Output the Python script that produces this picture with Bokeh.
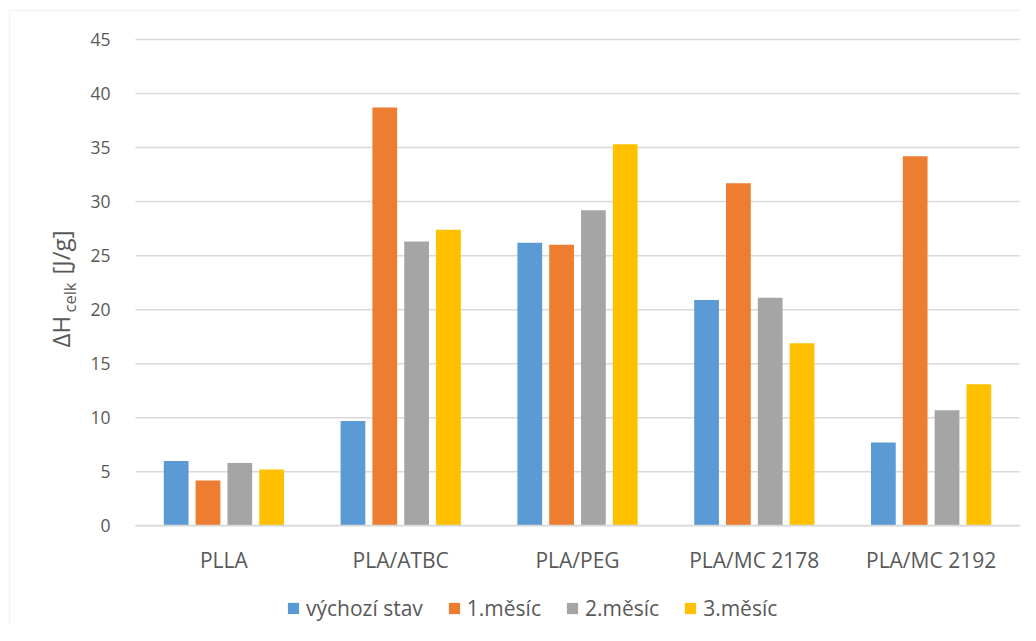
import math
from bokeh.plotting import figure
from bokeh.models import (ColumnDataSource, Range1d, Legend, LegendItem, Label,
                          BoxAnnotation, LinearAxis, FixedTicker)
from bokeh.transform import dodge
from bokeh.embed import file_html
from bokeh.resources import INLINE

categories = ["PLLA", "PLA/ATBC", "PLA/PEG", "PLA/MC 2178", "PLA/MC 2192"]
series_names = ["výchozí stav", "1.měsíc", "2.měsíc", "3.měsíc"]
vychozi_stav = [6.0, 9.7, 26.2, 20.9, 7.7]
mesic_1 = [4.2, 38.7, 26.0, 31.7, 34.2]
mesic_2 = [5.8, 26.3, 29.2, 21.1, 10.7]
mesic_3 = [5.2, 27.4, 35.3, 16.9, 13.1]
y_ticks = [0, 5, 10, 15, 20, 25, 30, 35, 40, 45]

colors = ["#5B9BD5", "#ED7D31", "#A5A5A5", "#FFC000"]
FONT = "Open Sans"
TXT = "#595959"
GRID = "#D9D9D9"

# canvas and plot-area geometry (pixels)
W, H = 1020, 625
AREA_L, AREA_R, AREA_T, AREA_B = 135, 1019, 39, 525.3
n = len(categories)
y_min, y_max = y_ticks[0], y_ticks[-1]
sx = (AREA_R - AREA_L) / n
sy = (AREA_B - AREA_T) / (y_max - y_min)
x_range = Range1d(-0.5 - AREA_L / sx, n - 0.5 + (W - AREA_R) / sx)
y_range = Range1d(y_min - (H - AREA_B) / sy, y_max + AREA_T / sy)

source = ColumnDataSource(dict(idx=list(range(n)), cat=categories,
                               s0=vychozi_stav, s1=mesic_1, s2=mesic_2, s3=mesic_3))

p = figure(x_range=x_range, y_range=y_range, width=W, height=H,
           output_backend="svg", toolbar_location=None,
           x_axis_location=None, y_axis_location=None,
           min_border=0, min_border_left=0, min_border_right=0,
           min_border_top=0, min_border_bottom=0)
p.outline_line_color = None
p.background_fill_color = "white"
p.border_fill_color = "white"
p.grid.visible = False

# horizontal gridlines across the plot area only
p.segment(x0=[-0.5] * len(y_ticks), x1=[n - 0.5] * len(y_ticks), y0=y_ticks, y1=y_ticks,
          line_color=GRID, line_width=1.5, level="underlay")

offsets = [-0.27, -0.09, 0.09, 0.27]
renderers = []
for i, key in enumerate(["s0", "s1", "s2", "s3"]):
    r = p.vbar(x=dodge("idx", offsets[i]), top=key, width=0.14,
               source=source, fill_color=colors[i], line_color=None)
    renderers.append(r)

# x axis at value 0
xaxis = LinearAxis(fixed_location=y_min, bounds=(-0.5, n - 0.5),
                   ticker=FixedTicker(ticks=list(range(n))),
                   major_label_overrides={i: c for i, c in enumerate(categories)},
                   axis_line_color=GRID, axis_line_width=1.5,
                   major_tick_line_color=None, minor_tick_line_color=None,
                   major_label_standoff=14, major_label_text_font=FONT,
                   major_label_text_font_size="21px", major_label_text_color=TXT)
p.add_layout(xaxis, "below")

# y axis at left edge of the plot area
yaxis = LinearAxis(fixed_location=-0.5, bounds=(y_min, y_max),
                   ticker=FixedTicker(ticks=y_ticks),
                   axis_line_color=None,
                   major_tick_line_color=None, minor_tick_line_color=None,
                   major_label_standoff=19, major_label_text_font=FONT,
                   major_label_text_font_size="17.5px", major_label_text_color=TXT)
p.add_layout(yaxis, "left")

# legend
legend = Legend(items=[LegendItem(label=series_names[i], renderers=[renderers[i]])
                       for i in range(4)],
                orientation="horizontal", location=(286, 3),
                padding=0, margin=0, spacing=24, label_standoff=6,
                glyph_width=14, glyph_height=14, border_line_color=None,
                background_fill_alpha=0,
                label_text_font=FONT, label_text_font_size="21px",
                label_text_color=TXT)
p.add_layout(legend, "center")

# y axis title with subscript
ang = math.pi / 2
p.add_layout(Label(x=60, y=H - 347, x_units="screen", y_units="screen", text="ΔH",
                   angle=ang, text_font=FONT, text_font_size="24px",
                   text_color=TXT, text_align="left", text_baseline="alphabetic"))
p.add_layout(Label(x=69, y=H - 312, x_units="screen", y_units="screen", text="celk",
                   angle=ang, text_font=FONT, text_font_size="16.5px",
                   text_color=TXT, text_align="left", text_baseline="alphabetic"))
p.add_layout(Label(x=60, y=H - 274, x_units="screen", y_units="screen", text="[J/g]",
                   angle=ang, text_font=FONT, text_font_size="24px",
                   text_color=TXT, text_align="left", text_baseline="alphabetic"))

# chart frame border (left/top visible; right/bottom lie off the picture)
p.add_layout(BoxAnnotation(left=9, right=5000, top=H - 10, bottom=-5000,
                           left_units="screen", right_units="screen",
                           top_units="screen", bottom_units="screen",
                           fill_alpha=0, line_color=GRID, line_width=1.5))

open("out.html", "w").write(file_html(p, INLINE))
